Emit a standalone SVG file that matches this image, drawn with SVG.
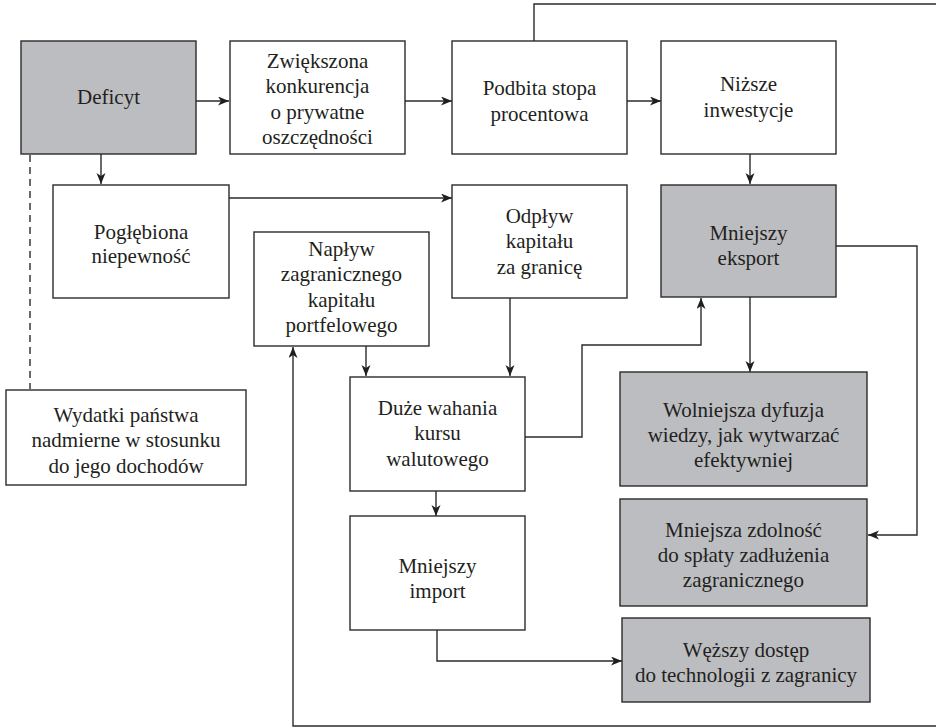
<svg xmlns="http://www.w3.org/2000/svg" width="936" height="727" viewBox="0 0 936 727">
  <style>
    .box { fill: #ffffff; stroke: #2b2b2b; stroke-width: 1.4; }
    .shade { fill: #bcbdc0; }
    .lbl { font-size: 21px; fill: #231f20; text-anchor: middle; }
    .wire { fill: none; stroke: #2b2b2b; stroke-width: 1.4; }
    .arrow { marker-end: url(#head); }
    .dash { stroke-dasharray: 7 5; }
  </style>
  <defs>
    <marker id="head" markerUnits="userSpaceOnUse" markerWidth="12" markerHeight="10" refX="11" refY="4.5" orient="auto">
      <path d="M0,0 L11,4.5 L0,9 L3,4.5 Z" fill="#1f1f1f"/>
    </marker>
  </defs>

  <rect width="936" height="727" fill="#ffffff"/>

  <!-- connectors -->
  <g id="connectors">
    <path class="wire arrow" d="M196,101 H229"/>
    <path class="wire arrow" d="M405,101 H452"/>
    <path class="wire arrow" d="M627,101 H661"/>
    <path class="wire arrow" d="M534,41 V4 H942 V726 H293 V347"/>
    <path class="wire arrow" d="M101,154 V184"/>
    <path class="wire dash" d="M30,155 V389"/>
    <path class="wire arrow" d="M229,198 H452"/>
    <path class="wire arrow" d="M750,154 V184"/>
    <path class="wire arrow" d="M510,298 V376"/>
    <path class="wire arrow" d="M366,346 V376"/>
    <path class="wire arrow" d="M525,437 H582 V345 H701 V298"/>
    <path class="wire arrow" d="M750,297 V372"/>
    <path class="wire arrow" d="M836,246 H917 V535 H868"/>
    <path class="wire arrow" d="M436,491 V516"/>
    <path class="wire arrow" d="M437,630 V661 H622"/>
  </g>

  <g font-family="Liberation Serif, Tinos, Times New Roman, Times, DejaVu Serif, Noto Serif, FreeSerif, serif">
  <g id="deficyt">
    <rect class="box shade" x="21" y="41" width="175" height="113"/>
    <text class="lbl" x="108.5" y="104">Deficyt</text>
  </g>

  <g id="konkurencja">
    <rect class="box" x="230" y="41" width="175" height="113"/>
    <text class="lbl" x="317.5" y="68">Zwiększona</text>
    <text class="lbl" x="317.5" y="93">konkurencja</text>
    <text class="lbl" x="317.5" y="118.5">o prywatne</text>
    <text class="lbl" x="317.5" y="143.5">oszczędności</text>
  </g>

  <g id="stopa">
    <rect class="box" x="452" y="41" width="175" height="113"/>
    <text class="lbl" x="539.5" y="95">Podbita stopa</text>
    <text class="lbl" x="539.5" y="120.5">procentowa</text>
  </g>

  <g id="inwestycje">
    <rect class="box" x="661" y="41" width="175" height="113"/>
    <text class="lbl" x="748.5" y="91">Niższe</text>
    <text class="lbl" x="748.5" y="116.5">inwestycje</text>
  </g>

  <g id="niepewnosc">
    <rect class="box" x="53" y="185" width="176" height="113"/>
    <text class="lbl" x="141" y="238.5">Pogłębiona</text>
    <text class="lbl" x="141" y="263">niepewność</text>
  </g>

  <g id="odplyw">
    <rect class="box" x="452" y="185" width="175" height="113"/>
    <text class="lbl" x="539.5" y="222.5">Odpływ</text>
    <text class="lbl" x="539.5" y="247.5">kapitału</text>
    <text class="lbl" x="539.5" y="273.5">za granicę</text>
  </g>

  <g id="eksport">
    <rect class="box shade" x="661" y="185" width="175" height="112"/>
    <text class="lbl" x="748.5" y="239.5">Mniejszy</text>
    <text class="lbl" x="748.5" y="265">eksport</text>
  </g>

  <g id="naplyw">
    <rect class="box" x="254" y="232" width="175" height="114"/>
    <text class="lbl" x="341.5" y="256">Napływ</text>
    <text class="lbl" x="341.5" y="281">zagranicznego</text>
    <text class="lbl" x="341.5" y="306.5">kapitału</text>
    <text class="lbl" x="341.5" y="332">portfelowego</text>
  </g>

  <g id="wydatki">
    <rect class="box" x="6" y="390" width="240" height="95"/>
    <text class="lbl" x="126" y="421.5">Wydatki państwa</text>
    <text class="lbl" x="126" y="447">nadmierne w stosunku</text>
    <text class="lbl" x="126" y="473">do jego dochodów</text>
  </g>

  <g id="wahania">
    <rect class="box" x="350" y="377" width="175" height="114"/>
    <text class="lbl" x="437.5" y="415">Duże wahania</text>
    <text class="lbl" x="437.5" y="440">kursu</text>
    <text class="lbl" x="437.5" y="466">walutowego</text>
  </g>

  <g id="dyfuzja">
    <rect class="box shade" x="620" y="372" width="247" height="114"/>
    <text class="lbl" x="743.5" y="416.5">Wolniejsza dyfuzja</text>
    <text class="lbl" x="743.5" y="441.5">wiedzy, jak wytwarzać</text>
    <text class="lbl" x="743.5" y="467">efektywniej</text>
  </g>

  <g id="import">
    <rect class="box" x="350" y="516" width="175" height="114"/>
    <text class="lbl" x="437.5" y="572.5">Mniejszy</text>
    <text class="lbl" x="437.5" y="597.5">import</text>
  </g>

  <g id="zdolnosc">
    <rect class="box shade" x="620" y="499" width="247" height="107"/>
    <text class="lbl" x="743.5" y="536.5">Mniejsza zdolność</text>
    <text class="lbl" x="743.5" y="561.5">do spłaty zadłużenia</text>
    <text class="lbl" x="743.5" y="587">zagranicznego</text>
  </g>

  <g id="technologia">
    <rect class="box shade" x="622" y="618" width="248" height="84"/>
    <text class="lbl" x="746" y="656.5">Węższy dostęp</text>
    <text class="lbl" x="746" y="681.5">do technologii z zagranicy</text>
  </g>
  </g>
</svg>
